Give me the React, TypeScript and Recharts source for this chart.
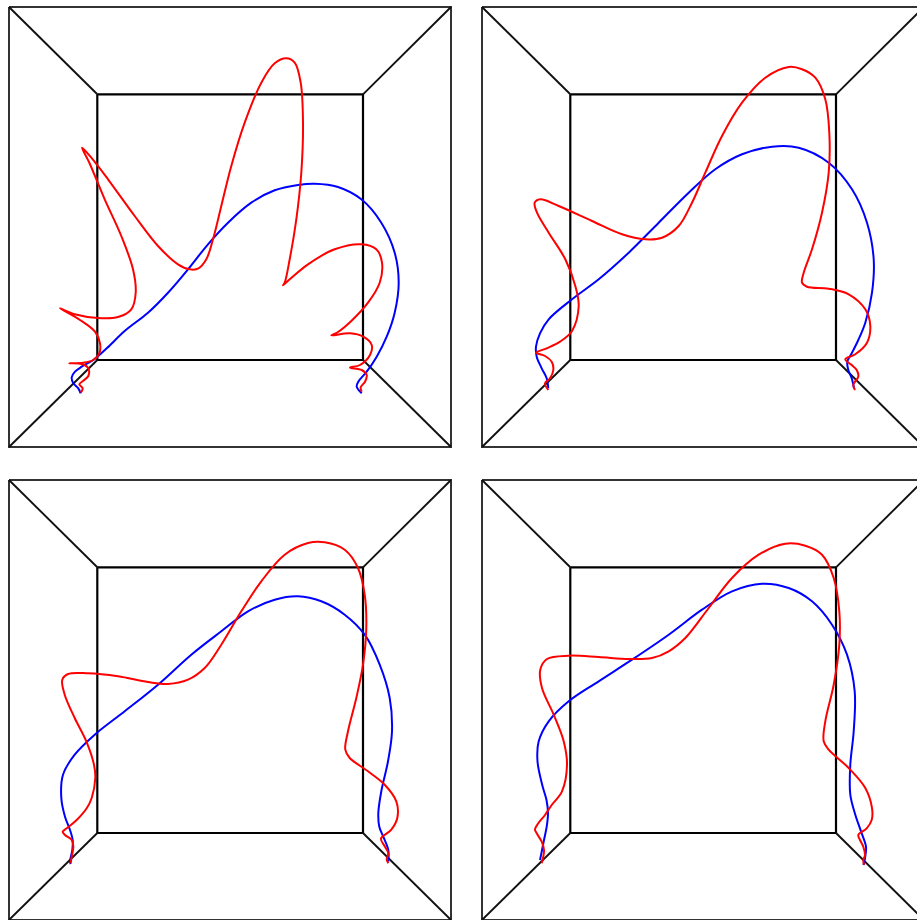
import { LineChart, Line, XAxis, YAxis } from "recharts";

// box coordinates: origin at the outer top-left corner, y grows downward
const BOX_W = 442;
const BOX_H = 440;

const outerFrame: [number, number][] = [[0, 0], [442, 0], [442, 440], [0, 440], [0, 0]];
const innerFrame: [number, number][] = [[88.3, 87.3], [354, 87.3], [354, 353], [88.3, 353], [88.3, 87.3]];
const diagonals: [number, number][][] = [
  [[0, 0], [88.3, 87.3]],
  [[442, 0], [354, 87.3]],
  [[442, 440], [354, 353]],
  [[0, 440], [88.3, 353]],
];

const panel1Red: [number, number][] = [
  [71.7, 385.7], [73.7, 381.3], [70.3, 377.3], [74.3, 373.7], [79.3, 369], [79.3, 361.3], [72.7, 357], [60.3, 356.3],
  [74.3, 355.7], [84.3, 353], [90.3, 346.3], [91, 336.3], [86, 324.7], [71, 313], [51, 301.3], [65.7, 307.3],
  [89, 311], [109, 310], [122.3, 302.3], [126.7, 285.7], [124, 262.3], [112.3, 229], [95.7, 192.3], [80, 155],
  [73, 140.7], [82.3, 150.7], [99, 172.3], [125.7, 209], [149, 239], [169, 257.3], [180.7, 262.3], [189, 261.7],
  [197.3, 252.3], [204, 232.3], [212.3, 199], [222.3, 159], [235.7, 115.7], [252.3, 75.7], [265.7, 56.3], [277.3, 51.3],
  [285.7, 55.7], [291.7, 75.7], [294, 115.7], [292.3, 165.7], [287.3, 212.3], [280.7, 252.3], [275.7, 275.7], [274, 278.3],
  [280.7, 272.3], [299, 257.3], [325.7, 242.3], [352.3, 237.3], [367.3, 242.3], [373, 255.7], [370.7, 275.7], [359, 295.7],
  [342.3, 314], [329, 325], [322.3, 328.3], [341, 326.3], [354.3, 329.7], [362.7, 338], [361, 348], [351, 358],
  [341, 360.7], [352.7, 363], [357.7, 368], [356, 374.7], [351.7, 380.3], [352.7, 384.7],
];
const panel1Blue: [number, number][] = [
  [71.7, 386.3], [69.3, 381.3], [64.3, 376.3], [62.7, 370.3], [66, 364.7], [72.7, 359.7], [84.3, 353], [97.7, 341.3],
  [115.7, 324], [139, 305.7], [159, 285.7], [179, 262.3], [199, 237.3], [219, 215.7], [242.3, 195.7], [265.7, 183.3],
  [289, 178], [305.7, 176.7], [329, 180], [352.3, 192.3], [372.3, 215.7], [385.7, 245.7], [389.7, 275.7], [385.7, 305.7],
  [377.7, 329.7], [367.7, 349.7], [357.7, 364.7], [349.3, 374.7], [347.7, 379.7], [352.7, 386.3],
];

const panel2Red: [number, number][] = [
  [66.3, 383], [63, 376.3], [68, 371.3], [71.3, 363], [69.7, 354.7], [63, 349], [54, 345.7], [64.7, 341.3],
  [78, 334.7], [90, 324], [96.7, 299], [93.3, 279], [83.3, 252.3], [66.7, 225.7], [55, 205.7], [52.7, 195.7],
  [58.3, 192.3], [76.7, 199], [110, 214], [140, 227.3], [163.3, 232.3], [180, 230.7], [196.7, 219], [210, 195.7],
  [223.3, 165.7], [240, 129], [260, 95.7], [283.3, 70.7], [306.7, 60], [320, 62.3], [333.3, 70.7], [343.3, 92.3],
  [347.3, 125.7], [346.7, 165.7], [340, 205.7], [330, 242.3], [321.7, 265.7], [320, 275.7], [325, 279.7], [346.7, 281.7],
  [366.7, 287.3], [383.3, 302.3], [388.3, 319], [385, 335.7], [373.3, 347.3], [363.3, 352.3], [369.7, 358], [374.7, 363],
  [376.3, 369.7], [373, 374.7], [371.3, 378], [373, 383],
];
const panel2Blue: [number, number][] = [
  [66.3, 381.3], [64.7, 371.3], [59.7, 361.3], [54.7, 349.7], [54, 339.7], [58, 326.3], [66.7, 312.3], [90, 292.3],
  [116.7, 272.3], [146.7, 245.7], [176.7, 215.7], [206.7, 185.7], [233.3, 162.3], [260, 147.3], [290, 139.7], [316.7, 140.7],
  [346.7, 155.7], [370, 182.3], [385, 215.7], [391.7, 252.3], [390, 285.7], [383.3, 315.7], [376.3, 333], [369.7, 346.3],
  [365.3, 354.7], [366.3, 363], [369.7, 371.3], [372, 381.3],
];

const panel3Red: [number, number][] = [
  [61.7, 383.3], [62.7, 376.7], [64.3, 366.7], [62.7, 360], [56, 355], [53.7, 351.7], [57.7, 348.3], [67.7, 340],
  [77.7, 328.3], [82.7, 318], [86.3, 298], [85, 284.7], [77.3, 261.3], [65.7, 238], [55.7, 214.7], [53.3, 199.7],
  [59, 194], [79, 193.3], [109, 196.3], [139, 202], [159, 204], [179, 199.7], [195.7, 188], [212.3, 164.7],
  [232.3, 131.3], [252.3, 101.3], [275.7, 74.7], [299, 63], [315.7, 62.3], [335.7, 69.7], [349, 88], [355.7, 114.7],
  [357.3, 148], [354, 184.7], [347.3, 218], [339, 251.3], [336.3, 269.7], [340.7, 278], [359, 291.3], [375.7, 304.7],
  [387.3, 321.3], [388.3, 338], [382.3, 349.7], [372, 358.7], [376, 366.7], [379.3, 373.3], [377.7, 379.3], [379.3, 383.3],
];
const panel3Blue: [number, number][] = [
  [61.7, 384], [61, 381.7], [63.3, 370], [63.7, 360], [61, 350], [56, 336.7], [52.3, 318], [54, 294.7],
  [65.7, 274.7], [85.7, 254.7], [115.7, 231.3], [149, 204.7], [182.3, 174.7], [212.3, 151.3], [239, 131.3], [265.7, 119.7],
  [289, 116.3], [312.3, 121.3], [335.7, 134.7], [355.7, 154.7], [370.7, 184.7], [380.7, 218], [383, 251.3], [379, 281.3],
  [372.3, 311.3], [369.3, 333.3], [370.3, 346.7], [374.3, 356.7], [379.3, 370], [379.3, 381.7],
];

const panel4Red: [number, number][] = [
  [59.7, 383.3], [61.3, 376.7], [62, 370], [59.7, 361.7], [54.7, 353.3], [53, 349.3], [56.3, 343.3], [63, 335],
  [69.7, 325], [80, 311.3], [85, 284.7], [81.7, 261.3], [71.7, 234.7], [60, 208], [58.3, 189.7], [65, 179],
  [86.7, 175.7], [116.7, 177], [146.7, 179], [170, 178], [186.7, 171.3], [203.3, 158], [226.7, 128], [250, 98],
  [276.7, 74.7], [303.3, 63.7], [323.3, 65.7], [340, 74.7], [351.7, 98], [357.3, 131.3], [357.3, 164.7], [351.7, 204.7],
  [343.3, 241.3], [341.7, 261.3], [346.7, 269.7], [366.7, 288], [383.3, 308], [390, 328], [389.7, 340], [384.7, 348.3],
  [376.3, 355], [378, 360], [381.3, 366.7], [383, 375], [381.3, 380], [382, 385],
];
const panel4Blue: [number, number][] = [
  [58, 380], [59.7, 371.7], [62, 360], [64.7, 346.7], [66, 333.3], [64.5, 320], [60.5, 306], [55.5, 281.3],
  [56.7, 261.3], [66.7, 241.3], [86.7, 221.3], [116.7, 201.3], [150, 179.7], [186.7, 154.7], [220, 129.7], [250, 111.3],
  [280, 103.7], [306.7, 108], [330, 121.3], [350, 144.7], [365, 174.7], [372.7, 211.3], [371.7, 251.3], [368.3, 284.7],
  [368.3, 314.7], [373.3, 334.7], [379.7, 353.3], [384, 366.7], [383, 378.3], [381.5, 385],
];

const panels = [
  { left: 7, top: 5, red: panel1Red, blue: panel1Blue },
  { left: 480, top: 5, red: panel2Red, blue: panel2Blue },
  { left: 7, top: 478, red: panel3Red, blue: panel3Blue },
  { left: 480, top: 478, red: panel4Red, blue: panel4Blue },
];

const toPoints = (pts: [number, number][]) => pts.map(([x, y]) => ({ x, y }));

// centripetal Catmull-Rom, so the wire passes through every sampled point
function catmullRom(context: any) {
  let pts: [number, number][] = [];
  const alpha = 0.5;
  const d = (a: [number, number], b: [number, number]) => Math.pow(Math.hypot(b[0] - a[0], b[1] - a[1]), alpha);
  return {
    areaStart() {},
    areaEnd() {},
    lineStart() {
      pts = [];
    },
    point(x: number, y: number) {
      pts.push([+x, +y]);
    },
    lineEnd() {
      if (!pts.length) return;
      context.moveTo(pts[0][0], pts[0][1]);
      for (let i = 0; i < pts.length - 1; i++) {
        const p0 = pts[Math.max(i - 1, 0)];
        const p1 = pts[i];
        const p2 = pts[i + 1];
        const p3 = pts[Math.min(i + 2, pts.length - 1)];
        const l01 = d(p0, p1), l12 = d(p1, p2), l23 = d(p2, p3);
        let c1: [number, number] = [p1[0], p1[1]];
        let c2: [number, number] = [p2[0], p2[1]];
        if (l01 > 1e-6) {
          const a = 2 * l01 * l01 + 3 * l01 * l12 + l12 * l12;
          const n = 3 * l01 * (l01 + l12);
          c1 = [
            (p1[0] * a - p0[0] * l12 * l12 + p2[0] * l01 * l01) / n,
            (p1[1] * a - p0[1] * l12 * l12 + p2[1] * l01 * l01) / n,
          ];
        }
        if (l23 > 1e-6) {
          const b = 2 * l23 * l23 + 3 * l23 * l12 + l12 * l12;
          const m = 3 * l23 * (l23 + l12);
          c2 = [
            (p2[0] * b + p1[0] * l23 * l23 - p3[0] * l12 * l12) / m,
            (p2[1] * b + p1[1] * l23 * l23 - p3[1] * l12 * l12) / m,
          ];
        }
        context.bezierCurveTo(c1[0], c1[1], c2[0], c2[1], p2[0], p2[1]);
      }
    },
  };
}

function Panel({ red, blue }: { red: [number, number][]; blue: [number, number][] }) {
  return (
    <LineChart width={446} height={444} margin={{ top: 2, right: 2, bottom: 2, left: 2 }}>
      <XAxis type="number" dataKey="x" domain={[0, BOX_W]} hide />
      <YAxis type="number" domain={[0, BOX_H]} reversed hide />
      <Line data={toPoints(outerFrame)} dataKey="y" type="linear" stroke="#333" strokeWidth={2} dot={false} activeDot={false} isAnimationActive={false} />
      <Line data={toPoints(innerFrame)} dataKey="y" type="linear" stroke="#000" strokeWidth={2.2} dot={false} activeDot={false} isAnimationActive={false} />
      {diagonals.map((seg, i) => (
        <Line key={`diag-${i}`} data={toPoints(seg)} dataKey="y" type="linear" stroke="#111" strokeWidth={1.9} dot={false} activeDot={false} isAnimationActive={false} />
      ))}
      <Line data={toPoints(blue)} dataKey="y" type={catmullRom as any} stroke="#0000ff" strokeWidth={2} dot={false} activeDot={false} isAnimationActive={false} />
      <Line data={toPoints(red)} dataKey="y" type={catmullRom as any} stroke="#ff0000" strokeWidth={2} dot={false} activeDot={false} isAnimationActive={false} />
    </LineChart>
  );
}

export default function App() {
  return (
    <div style={{ position: "fixed", left: 0, top: 0, width: 917, height: 920, overflow: "hidden", background: "#fff" }}>
      {panels.map((p, i) => (
        <div key={i} style={{ position: "absolute", left: p.left, top: p.top }}>
          <Panel red={p.red} blue={p.blue} />
        </div>
      ))}
    </div>
  );
}
